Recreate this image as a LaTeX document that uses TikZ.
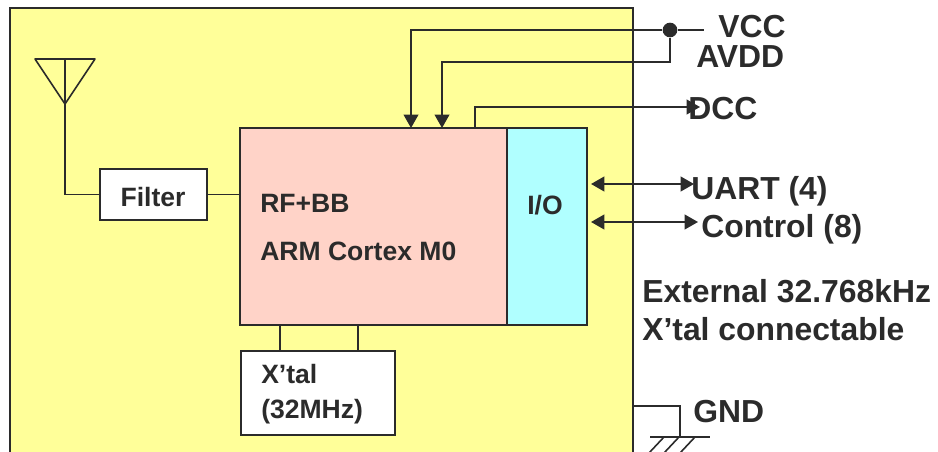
\documentclass[tikz,border=0pt]{standalone}
\usepackage{fontspec}
\setmainfont{Liberation Sans}
\usepackage{xcolor}
\usetikzlibrary{arrows.meta}
\definecolor{inkgray}{HTML}{2B2B2B}
\definecolor{boardyellow}{HTML}{FFFF99}
\definecolor{corepink}{HTML}{FFD3C8}
\definecolor{iocyan}{HTML}{B0FFFF}

\begin{document}
\begin{tikzpicture}[x=0.75pt, y=-0.75pt,
    wire/.style={draw=inkgray, line width=1.5pt},
    thinwire/.style={draw=inkgray, line width=1.2pt},
    tip/.style={-{Triangle[length=10pt, width=11pt]}},
    twotip/.style={{Triangle[length=10pt, width=11pt]}-{Triangle[length=10pt, width=11pt]}},
    block/.style={draw=inkgray, line width=1.8pt, inner sep=0pt, outer sep=0pt},
    biglabel/.style={font=\fontsize{23.9}{29}\selectfont\bfseries, text=inkgray, inner sep=0pt},
    smalllabel/.style={font=\fontsize{19.9}{26.5}\selectfont\bfseries, text=inkgray, inner sep=0pt}]
    \useasboundingbox (0,0) rectangle (938,452);
    \clip (0,0) rectangle (938,452);

    % Board outline
    \node[block, line width=1.6pt, fill=boardyellow, minimum width=467.25pt, minimum height=345pt] (board) at (321.5,238) {};

    % Blocks
    \node[block, fill=corepink, minimum width=200.25pt, minimum height=147.75pt] (core) at (373.5,226.5) {};
    \node[block, fill=iocyan, minimum width=60pt, minimum height=147.75pt] (io) at (547,226.5) {};
    \node[block, line width=1.6pt, fill=white, minimum width=80.25pt, minimum height=38.25pt] (filter) at (153.5,194.5) {};
    \node[block, fill=white, minimum width=115.5pt, minimum height=63pt] (xtal) at (318,393) {};

    % Block texts
    \node[smalllabel] (filtertext) at (153,197) {Filter};
    \node[smalllabel, anchor=base west] (rftext) at (260,213) {RF+BB};
    \node[smalllabel, anchor=base west] (armtext) at (260,261) {ARM Cortex M0};
    \node[smalllabel] (iotext) at (545,205) {I/O};
    \node[smalllabel, anchor=west, align=left] (xtaltext) at (261,394) {X’tal\\(32MHz)};

    % Antenna
    \coordinate (anttip) at (65,104);
    \coordinate (anttop) at (65,59);
    \draw[thinwire, line join=round] (35,59) -- (95,59) -- (anttip) -- cycle;
    \draw[thinwire] (anttop) -- (anttip);
    \draw[thinwire] (anttip) |- (filter.west);
    \draw[thinwire] (filter.east) -- (filter.east -| core.west);

    % Crystal legs
    \coordinate (xtalleft) at (280,325);
    \coordinate (xtalright) at (358,325);
    \draw[thinwire] (xtalleft) -- (xtalleft |- xtal.north);
    \draw[thinwire] (xtalright) -- (xtalright |- xtal.north);

    % Supply lines
    \node[circle, fill=inkgray, inner sep=0pt, minimum size=11pt] (dot) at (670,30) {};
    \coordinate (vccend) at (704,30);
    \coordinate (vccin) at (411,128);
    \coordinate (avddbend) at (670,62);
    \coordinate (avddin) at (442,128);
    \draw[thinwire] (dot) -- (vccend);
    \draw[thinwire, tip] (dot) -| (vccin);
    \draw[thinwire, tip] (dot) -- (avddbend) -| (avddin);

    % DCC output
    \coordinate (dccout) at (475,128);
    \coordinate (dccend) at (700,107);
    \draw[wire, tip] (dccout) |- (dccend);

    % I/O lines
    \coordinate (uartport) at (591,184);
    \coordinate (uartend) at (694,184);
    \coordinate (ctrlport) at (591,222);
    \coordinate (ctrlend) at (698,222);
    \draw[wire, twotip] (uartport) -- (uartend);
    \draw[wire, twotip] (ctrlport) -- (ctrlend);

    % Ground
    \coordinate (gndout) at (634,406);
    \coordinate (gndbar) at (680,437);
    \draw[thinwire] (gndout) -| (gndbar);
    \draw[thinwire] (650,437) -- (710,437);
    \foreach \hx in {664,679,695} {
        \draw[thinwire] (\hx,437) -- (\hx-15,453);
    }

    % Pin labels
    \node[biglabel, anchor=base west] (vcc) at (718,38) {VCC};
    \node[biglabel, anchor=base west] (avdd) at (696,68) {AVDD};
    \node[biglabel, anchor=base west] (dcc) at (688,120) {DCC};
    \node[biglabel, anchor=base west] (uart) at (691,200) {UART (4)};
    \node[biglabel, anchor=base west] (ctrl) at (701,238) {Control (8)};
    \node[biglabel, anchor=base west] (gnd) at (693,422) {GND};
    \node[biglabel, anchor=west, align=left] (extnote) at (642,310) {External 32.768kHz\\X’tal connectable};
\end{tikzpicture}
\end{document}
